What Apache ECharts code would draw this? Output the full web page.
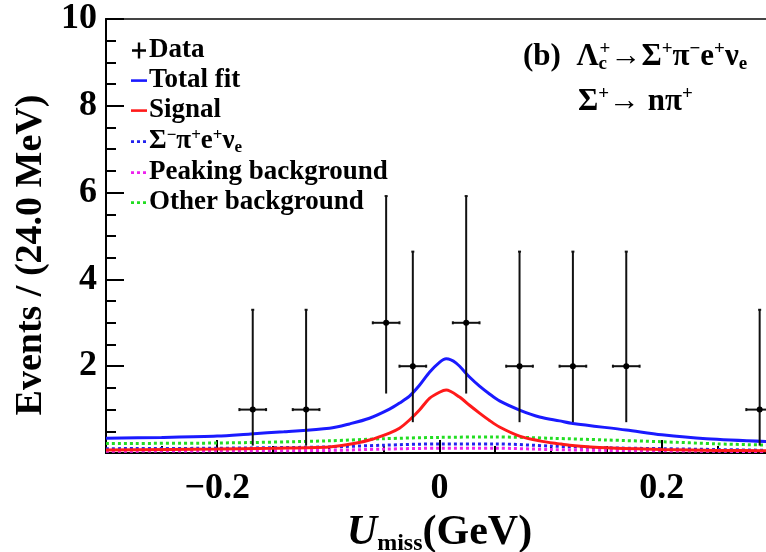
<!DOCTYPE html>
<html><head><meta charset="utf-8">
<script src="https://cdn.jsdelivr.net/npm/echarts@6/dist/echarts.min.js"></script>
<style>html,body{margin:0;padding:0;background:#fff}#c{width:766px;height:552px}</style>
</head><body><div id="c"></div>
<script>
// ---- data ----
const dataX    = [-0.168, -0.12, -0.048, -0.024, 0.024, 0.072, 0.12, 0.168, 0.288];
const dataY    = [1, 1, 3, 2, 3, 2, 2, 2, 1];
const errLow   = [0.17, 0.17, 1.37, 0.71, 1.37, 0.71, 0.71, 0.71, 0.17];
const errHigh  = [3.30, 3.30, 5.92, 4.64, 5.92, 4.64, 4.64, 4.64, 3.30];
const binHalf  = 0.012;

const totalX = [-0.3,-0.25,-0.2,-0.17,-0.14,-0.099,-0.081,-0.063,-0.045,-0.036,-0.027,-0.018,-0.009,0,0.006,0.015,0.027,0.036,0.045,0.054,0.072,0.09,0.108,0.12,0.168,0.2,0.24,0.3];
const totalY = [0.34,0.36,0.39,0.44,0.49,0.57,0.67,0.8,1.01,1.15,1.31,1.56,1.86,2.09,2.17,2.07,1.75,1.54,1.36,1.2,0.99,0.83,0.74,0.68,0.53,0.42,0.33,0.26];

const signalX = [-0.3,-0.2,-0.15,-0.099,-0.081,-0.063,-0.045,-0.036,-0.027,-0.018,-0.009,0,0.006,0.018,0.027,0.036,0.045,0.054,0.072,0.09,0.108,0.117,0.15,0.2,0.25,0.3];
const signalY = [0.07,0.09,0.11,0.14,0.2,0.3,0.46,0.57,0.76,0.99,1.26,1.4,1.45,1.29,1.1,0.92,0.75,0.6,0.39,0.28,0.21,0.18,0.12,0.08,0.06,0.05];

const otherX = [-0.3,-0.2,-0.1,-0.05,0,0.05,0.1,0.15,0.2,0.25,0.3];
const otherY = [0.22,0.23,0.28,0.33,0.36,0.37,0.34,0.3,0.26,0.21,0.18];

const sigmaX = [-0.3,-0.2,-0.1,-0.05,0,0.05,0.1,0.15,0.2,0.25,0.3];
const sigmaY = [0.1,0.11,0.14,0.18,0.21,0.21,0.16,0.12,0.1,0.08,0.06];

const peakX = [-0.3,-0.2,-0.1,-0.05,0,0.05,0.1,0.15,0.2,0.25,0.3];
const peakY = [0.04,0.05,0.06,0.09,0.11,0.11,0.08,0.06,0.05,0.04,0.03];

const xLabelValues = [-0.2, 0, 0.2];

// ---- chart ----
const FONT = 'Liberation Serif';
const zip = (xs, ys) => xs.map((x, i) => [x, ys[i]]);
const chart = echarts.init(document.getElementById('c'), null, {renderer: 'canvas'});

const names = {
  data: 'Data', total: 'Total fit', signal: 'Signal',
  sigma: 'Σ-π+e+νe', peak: 'Peaking background', other: 'Other background'
};
const ICON_LINE = 'path://M0,0M16,16M0,6.8h16v2.6h-16z';
const ICON_DOT = 'path://M0,0M16,16M0,6.8h3v2.6h-3zM6,6.8h3v2.6h-3zM12,6.8h3v2.6h-3z';
const ICON_CROSS = 'path://M0,0M16,16M1,6.8h14v2.4h-14zM6.8,0h2.4v16h-2.4z';

function curve(name, color, xs, ys, dashed, z) {
  return {
    name, type: 'line', data: zip(xs, ys), smooth: 0.3, symbol: 'none',
    lineStyle: {color, width: 3, type: dashed ? [3, 3] : 'solid'}, itemStyle: {color}, z
  };
}

const option = {
  animation: false,
  grid: {left: 106, top: 19, width: 667, height: 434, show: true, borderColor: '#444', borderWidth: 2,
    containLabel: false, outerBoundsMode: 'none'},
  xAxis: [{
    type: 'value', min: -0.3, max: 0.3,
    axisLine: {onZero: false, lineStyle: {color: '#000', width: 2}},
    axisTick: {show: true, inside: true, length: 13, customValues: xLabelValues, lineStyle: {color: '#000', width: 2}},
    axisLabel: {customValues: xLabelValues, fontFamily: FONT, fontWeight: 'bold', fontSize: 36, color: '#000', margin: 18,
      formatter: v => (Math.abs(v) < 1e-9 ? '0' : String(Math.round(v * 10) / 10).replace('-', '\u2212'))},
    splitLine: {show: false},
    name: '{u|U}{s|miss}{n|(GeV)}', nameLocation: 'middle', nameGap: 54,
    nameTextStyle: {rich: {
      u: {fontFamily: FONT, fontWeight: 'bold', fontStyle: 'italic', fontSize: 42, color: '#000'},
      s: {fontFamily: FONT, fontWeight: 'bold', fontSize: 24, color: '#000', padding: [22, 0, 0, 0]},
      n: {fontFamily: FONT, fontWeight: 'bold', fontSize: 42, color: '#000'}
    }}
  }, {
    type: 'value', min: -0.3, max: 0.3, interval: 0.05, position: 'bottom', gridIndex: 0,
    axisLine: {show: false, onZero: false}, axisLabel: {show: false}, splitLine: {show: false},
    axisTick: {show: true, inside: true, length: 7, lineStyle: {color: '#000', width: 2}}
  }],
  yAxis: {
    type: 'value', min: 0, max: 10, interval: 2,
    axisLine: {show: true, onZero: false, lineStyle: {color: '#000', width: 2}},
    axisTick: {show: true, inside: true, length: 18, lineStyle: {color: '#000', width: 2}},
    minorTick: {show: true, splitNumber: 4, length: 10, lineStyle: {color: '#000', width: 2}},
    axisLabel: {fontFamily: FONT, fontWeight: 'bold', fontSize: 36, color: '#000', margin: 9,
      formatter: v => (v === 0 ? '' : String(v))},
    splitLine: {show: false}
  },
  legend: {
    orient: 'vertical', left: 126, top: 32, itemWidth: 16, itemHeight: 16, itemGap: 3,
    selectedMode: false,
    textStyle: {fontFamily: FONT, fontWeight: 'bold', fontSize: 27, color: '#000', lineHeight: 26, padding: [0, 0, 0, -3],
      rich: {
        n: {fontFamily: FONT, fontWeight: 'bold', fontSize: 27, color: '#000', lineHeight: 26},
        sup: {fontFamily: FONT, fontWeight: 'bold', fontSize: 17, color: '#000', lineHeight: 26, padding: [0, 0, 12, 0]},
        sub: {fontFamily: FONT, fontWeight: 'bold', fontSize: 17, color: '#000', lineHeight: 26, padding: [12, 0, 0, 0]}
      }},
    formatter: n => (n === names.sigma ? '{n|Σ}{sup|\u2212}{n|π}{sup|+}{n|e}{sup|+}{n|ν}{sub|e}' : n),
    data: [
      {name: names.data, icon: ICON_CROSS, itemStyle: {color: '#000'}},
      {name: names.total, icon: ICON_LINE, itemStyle: {color: '#1a1aff'}},
      {name: names.signal, icon: ICON_LINE, itemStyle: {color: '#ff1a1a'}},
      {name: names.sigma, icon: ICON_DOT, itemStyle: {color: '#2222ee'}},
      {name: names.peak, icon: ICON_DOT, itemStyle: {color: '#ee22ee'}},
      {name: names.other, icon: ICON_DOT, itemStyle: {color: '#22dd22'}}
    ]
  },
  graphic: [
    {type: 'text', x: 31, y: 255, rotation: Math.PI / 2,
      style: {text: 'Events / (24.0 MeV)', fontFamily: FONT, fontWeight: 'bold', fontSize: 38, fill: '#000',
        align: 'center', verticalAlign: 'middle'}},
    {type: 'text', x: 523, y: 57,
      style: {text: '{n|(b)  Λ}{sb|c}{sp|+}{n|→Σ}{sp|+}{n|π}{sp|\u2212}{n|e}{sp|+}{n|ν}{sb2|e}',
        verticalAlign: 'middle',
        rich: {
          n: {fontFamily: FONT, fontWeight: 'bold', fontSize: 31, fill: '#000'},
          sp: {fontFamily: FONT, fontWeight: 'bold', fontSize: 19, fill: '#000', padding: [0, 0, 15, 0]},
          sb: {fontFamily: FONT, fontWeight: 'bold', fontSize: 19, fill: '#000', padding: [15, 0, 0, 0], width: 1},
          sb2: {fontFamily: FONT, fontWeight: 'bold', fontSize: 19, fill: '#000', padding: [15, 0, 0, 0]}
        }}},
    {type: 'text', x: 578, y: 102,
      style: {text: '{n|Σ}{sp|+}{n|→ nπ}{sp|+}', verticalAlign: 'middle',
        rich: {
          n: {fontFamily: FONT, fontWeight: 'bold', fontSize: 31, fill: '#000'},
          sp: {fontFamily: FONT, fontWeight: 'bold', fontSize: 19, fill: '#000', padding: [0, 0, 15, 0]}
        }}}
  ],
  series: [
    curve(names.other, '#22dd22', otherX, otherY, true, 2),
    curve(names.sigma, '#2222ee', sigmaX, sigmaY, true, 2),
    curve(names.peak, '#ee22ee', peakX, peakY, true, 2),
    curve(names.signal, '#ff1a1a', signalX, signalY, false, 3),
    curve(names.total, '#1a1aff', totalX, totalY, false, 4),
    {name: names.data, type: 'custom', z: 5,
      data: dataX.map((x, i) => [x, dataY[i], errLow[i], errHigh[i]]),
      itemStyle: {color: '#000'},
      renderItem: (params, api) => {
        const x = api.value(0), y = api.value(1);
        const c = api.coord([x, y]);
        const lo = api.coord([x, api.value(2)]);
        const hi = api.coord([x, api.value(3)]);
        const l = api.coord([x - binHalf, y]);
        const r = api.coord([x + binHalf, y]);
        const st = {stroke: '#111', lineWidth: 2};
        return {type: 'group', children: [
          {type: 'line', shape: {x1: lo[0], y1: lo[1], x2: hi[0], y2: hi[1]}, style: st},
          {type: 'line', shape: {x1: l[0], y1: l[1], x2: r[0], y2: r[1]}, style: st},
          {type: 'line', shape: {x1: hi[0] - 1.5, y1: hi[1], x2: hi[0] + 1.5, y2: hi[1]}, style: st},
          {type: 'line', shape: {x1: l[0], y1: l[1] - 1.5, x2: l[0], y2: l[1] + 1.5}, style: st},
          {type: 'line', shape: {x1: r[0], y1: r[1] - 1.5, x2: r[0], y2: r[1] + 1.5}, style: st},
          {type: 'circle', shape: {cx: c[0], cy: c[1], r: 3}, style: {fill: '#000'}}
        ]};
      }}
  ]
};
chart.setOption(option);
</script></body></html>
